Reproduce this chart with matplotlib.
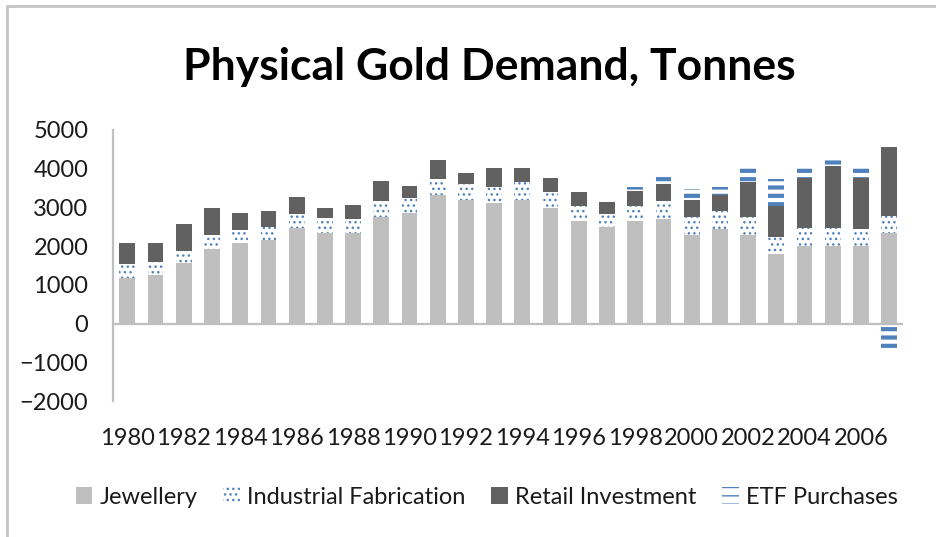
import numpy as np
import matplotlib.pyplot as plt
from matplotlib.patches import Rectangle

years = list(range(1980, 2008))
jewellery = [1170, 1255, 1575, 1940, 2070, 2155, 2480, 2350, 2350, 2760,
             2845, 3330, 3190, 3120, 3190, 2985, 2640, 2500, 2640, 2700,
             2285, 2440, 2285, 1810, 2010, 2010, 2010, 2350]
industrial = [360, 345, 305, 345, 360, 345, 350, 365, 350, 415,
              395, 405, 415, 400, 475, 420, 395, 330, 395, 475,
              475, 475, 475, 415, 470, 470, 430, 435]
retail = [555, 485, 690, 700, 415, 415, 430, 270, 350, 500,
          305, 495, 285, 500, 355, 345, 370, 300, 380, 430,
          440, 415, 905, 820, 1280, 1600, 1320, 1785]
etf = [0, 0, 0, 0, 0, 0, 0, 0, 0, 0,
       0, 0, 0, 0, 0, 0, 0, 0, 125, 200,
       275, 205, 370, 690, 340, 200, 340, -700]

plt.rcParams['font.family'] = ['Lato', 'DejaVu Sans']

fig = plt.figure(figsize=(9.36, 5.37), dpi=100)
ax = fig.add_axes([0.121, 0.253, 0.844, 0.505])

x = np.arange(len(years))
w = 0.56
jew = np.array(jewellery)
ind = np.array(industrial)
ret = np.array(retail)
et = np.array(etf)


def hatch_lw(bars, lw):
    for p in bars:
        if hasattr(p, 'set_hatch_linewidth'):
            p.set_hatch_linewidth(lw)


ax.bar(x, jew, w, color='#bfbfbf', label='Jewellery', zorder=2)
b_ind = ax.bar(x, ind, w, bottom=jew, facecolor='white', edgecolor='#4f81bd',
               linewidth=0, hatch='...', label='Industrial Fabrication', zorder=2)
hatch_lw(b_ind, 1.0)
ax.bar(x, ret, w, bottom=jew + ind, color='#616161', label='Retail Investment', zorder=2)
# negative ETF values hang below zero, positive ones sit on top of the stack
etf_bottom = np.where(et > 0, jew + ind + ret, 0)
b_etf = ax.bar(x, et, w, bottom=etf_bottom, facecolor='white', edgecolor='#4f81bd',
               linewidth=0, hatch='--', label='ETF Purchases', zorder=2)
hatch_lw(b_etf, 3.0)

ax.axhline(0, color='#bfbfbf', lw=1.6, zorder=3)
ax.set_xlim(-0.5, len(years) - 0.5)
ax.set_ylim(-2000, 5000)
ax.set_yticks(range(-2000, 5001, 1000))
ax.set_xticks(x[::2])
ax.set_xticklabels([str(y) for y in years[::2]])
ax.tick_params(axis='both', length=0, labelsize=17, colors='#1a1a1a')
ax.tick_params(axis='y', pad=18)
ax.tick_params(axis='x', pad=19)
for s in ['top', 'right', 'bottom']:
    ax.spines[s].set_visible(False)
ax.spines['left'].set_color('#bfbfbf')
ax.spines['left'].set_linewidth(1.6)

fig.suptitle('Physical Gold Demand, Tonnes', fontsize=32, fontweight='bold',
             y=0.876, x=0.523, va='center')

leg = fig.legend(loc='center', bbox_to_anchor=(0.52, 0.074), ncol=4, frameon=False,
                 fontsize=17, handlelength=0.7, handleheight=0.7, handletextpad=0.3,
                 columnspacing=1.1, labelcolor='#1a1a1a')

fig.patches.append(Rectangle((7 / 936, -0.1), 1.2, 1.1 - 6 / 537, transform=fig.transFigure,
                             fill=False, edgecolor='#c4c4c4', lw=2))

fig.savefig('out.png', dpi=100)
